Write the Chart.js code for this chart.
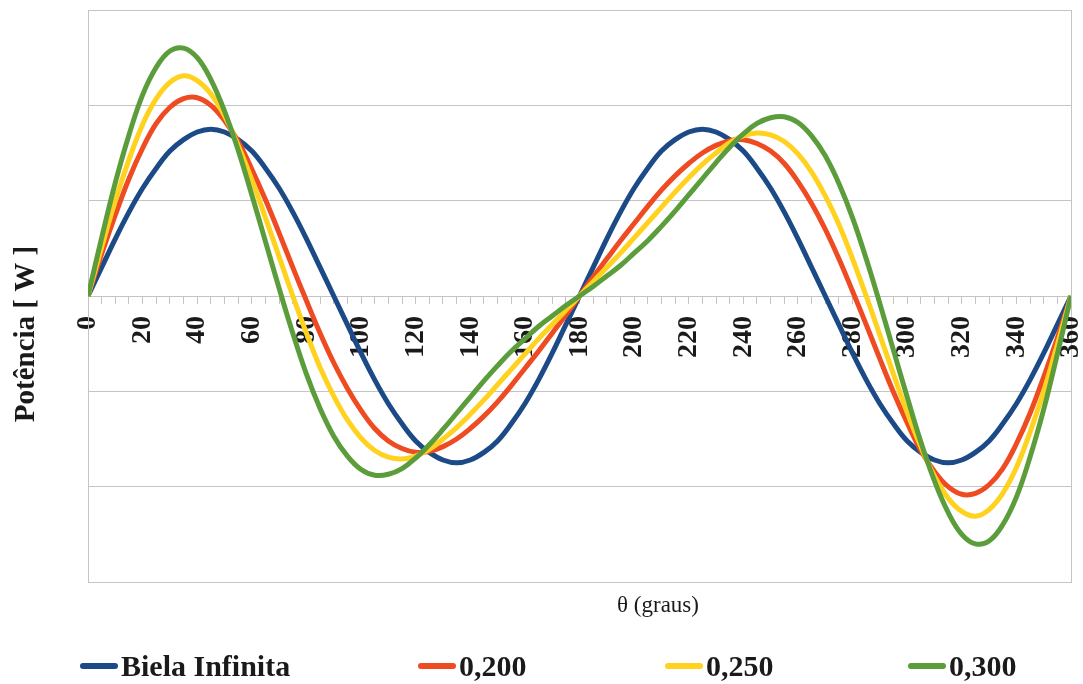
<!DOCTYPE html>
<html>
<head>
<meta charset="utf-8">
<script src="https://cdn.jsdelivr.net/npm/chart.js@4.4.1/dist/chart.umd.min.js"></script>
<style>
  html, body { margin: 0; padding: 0; background: #fff; }
  #wrap { position: relative; width: 1083px; height: 684px; }
  #legend { position: absolute; left: 0; top: 648px; width: 1083px; height: 36px;
            font: bold 30px "Liberation Serif", serif; color: #1a1a1a; }
  .item { position: absolute; top: 0; height: 36px; display: flex; align-items: center; white-space: nowrap; }
  .swatch { width: 38px; height: 6px; border-radius: 3px; margin-right: 3px; }
</style>
</head>
<body>
<div id="wrap">
  <canvas id="chart" width="1083" height="684"></canvas>
  <div id="legend"></div>
</div>
<script>
// crank angle (degrees)
const theta = [
  0, 5, 10, 15, 20, 25, 30, 35, 40, 45, 50, 55, 60, 65, 70, 75, 80, 85, 90,
  95, 100, 105, 110, 115, 120, 125, 130, 135, 140, 145, 150, 155, 160, 165, 170, 175, 180,
  185, 190, 195, 200, 205, 210, 215, 220, 225, 230, 235, 240, 245, 250, 255, 260, 265, 270,
  275, 280, 285, 290, 295, 300, 305, 310, 315, 320, 325, 330, 335, 340, 345, 350, 355, 360
];

const seriesNames = ['Biela Infinita', '0,200', '0,250', '0,300'];

// power [W] (one gridline = 1)
const bielaInfinita = [
  0, 0.30, 0.60, 0.88, 1.13, 1.34, 1.52, 1.64, 1.72, 1.75, 1.72, 1.64, 1.52, 1.34, 1.13, 0.88, 0.60, 0.30, 0,
  -0.30, -0.60, -0.88, -1.13, -1.34, -1.52, -1.64, -1.72, -1.75, -1.72, -1.64, -1.52, -1.34, -1.13, -0.88, -0.60, -0.30, 0,
  0.30, 0.60, 0.88, 1.13, 1.34, 1.52, 1.64, 1.72, 1.75, 1.72, 1.64, 1.52, 1.34, 1.13, 0.88, 0.60, 0.30, 0,
  -0.30, -0.60, -0.88, -1.13, -1.34, -1.52, -1.64, -1.72, -1.75, -1.72, -1.64, -1.52, -1.34, -1.13, -0.88, -0.60, -0.30, 0
];
const r200 = [
  0, 0.44, 0.85, 1.23, 1.55, 1.81, 1.98, 2.07, 2.08, 2.00, 1.84, 1.62, 1.33, 1.01, 0.66, 0.30, -0.05, -0.39, -0.70,
  -0.97, -1.20, -1.39, -1.52, -1.60, -1.64, -1.63, -1.58, -1.50, -1.39, -1.26, -1.11, -0.94, -0.76, -0.58, -0.39, -0.20, 0,
  0.20, 0.39, 0.58, 0.76, 0.94, 1.11, 1.26, 1.39, 1.50, 1.58, 1.63, 1.64, 1.60, 1.52, 1.39, 1.20, 0.97, 0.70,
  0.39, 0.05, -0.30, -0.66, -1.01, -1.33, -1.62, -1.84, -2.00, -2.08, -2.07, -1.98, -1.81, -1.55, -1.23, -0.85, -0.44, 0
];
const r250 = [
  0, 0.51, 1.00, 1.43, 1.80, 2.07, 2.24, 2.31, 2.26, 2.12, 1.89, 1.58, 1.22, 0.82, 0.41, 0.00, -0.39, -0.75, -1.05,
  -1.30, -1.49, -1.62, -1.69, -1.71, -1.68, -1.61, -1.50, -1.38, -1.24, -1.09, -0.93, -0.77, -0.61, -0.45, -0.30, -0.15, 0,
  0.15, 0.30, 0.45, 0.61, 0.77, 0.93, 1.09, 1.24, 1.38, 1.50, 1.61, 1.68, 1.71, 1.69, 1.62, 1.49, 1.30, 1.05,
  0.75, 0.39, 0.00, -0.41, -0.82, -1.22, -1.58, -1.89, -2.12, -2.26, -2.31, -2.24, -2.07, -1.80, -1.43, -1.00, -0.51, 0
];
const r300 = [
  0, 0.61, 1.19, 1.69, 2.11, 2.40, 2.57, 2.60, 2.50, 2.27, 1.94, 1.53, 1.06, 0.57, 0.08, -0.39, -0.82, -1.18, -1.47,
  -1.68, -1.82, -1.88, -1.87, -1.81, -1.70, -1.56, -1.40, -1.23, -1.06, -0.89, -0.73, -0.58, -0.45, -0.32, -0.21, -0.10, 0,
  0.10, 0.21, 0.32, 0.45, 0.58, 0.73, 0.89, 1.06, 1.23, 1.40, 1.56, 1.70, 1.81, 1.87, 1.88, 1.82, 1.68, 1.47,
  1.18, 0.82, 0.39, -0.08, -0.57, -1.06, -1.53, -1.94, -2.27, -2.50, -2.60, -2.57, -2.40, -2.11, -1.69, -1.19, -0.61, 0
];

const xTitle = 'θ (graus)';
const yTitle = 'Potência [ W ]';

const colors = ['#1b4a86', '#ef4b23', '#ffd21f', '#5b9d3b'];
const gridColor = '#c4c4c4';
const textColor = '#1a1a1a';
const legendLeft = [80, 418, 665, 908];

function points(values) {
    return theta.map((t, i) => ({ x: t, y: values[i] }));
}

const allSeries = [bielaInfinita, r200, r250, r300];

const datasets = allSeries.map((values, i) => ({
    label: seriesNames[i],
    data: points(values),
    borderColor: colors[i],
    backgroundColor: colors[i],
    borderWidth: 5,
    pointRadius: 0,
    tension: 0.4,
    fill: false,
    order: allSeries.length - 1 - i
}));

// axis titles sit off-centre in the original, so they are drawn here
const axisTitles = {
    id: 'axisTitles',
    afterDraw(chart) {
        const { ctx, chartArea } = chart;
        ctx.save();
        ctx.fillStyle = textColor;
        ctx.textAlign = 'center';
        ctx.textBaseline = 'middle';
        ctx.font = '23px "Liberation Serif"';
        ctx.fillText(xTitle, 658, chartArea.bottom + 24);
        ctx.translate(27, 334);
        ctx.rotate(-Math.PI / 2);
        ctx.font = 'bold 29px "Liberation Serif"';
        ctx.fillText(yTitle, 0, 0);
        ctx.restore();
    }
};

const chart = new Chart(document.getElementById('chart'), {
    type: 'line',
    data: { datasets },
    options: {
        responsive: false,
        animation: false,
        layout: { padding: { top: 10, right: 12, bottom: 102, left: 0 } },
        plugins: {
            legend: { display: false },
            tooltip: { enabled: false }
        },
        scales: {
            x: {
                type: 'linear',
                min: 0,
                max: 360,
                afterFit: s => { s.height = 0; },
                ticks: { display: false, stepSize: 20 },
                grid: {
                    drawTicks: false,
                    color: c => (c.tick && c.tick.value === 360 ? gridColor : 'transparent')
                },
                border: { color: gridColor }
            },
            x2: {
                type: 'linear',
                position: { y: 0 },
                min: 0,
                max: 360,
                afterFit: s => { s.paddingLeft = 0; s.paddingRight = 0; },
                ticks: {
                    stepSize: 5,
                    autoSkip: false,
                    minRotation: 90,
                    maxRotation: 90,
                    padding: 12,
                    color: textColor,
                    font: { family: '"Liberation Serif", serif', size: 28, weight: 'bold' },
                    callback: v => (v % 20 === 0 ? String(v) : '')
                },
                grid: { drawOnChartArea: false, tickLength: 8, color: gridColor },
                border: { display: false }
            },
            y: {
                min: -3,
                max: 3,
                afterFit: s => { s.width = 88; },
                ticks: { display: false, stepSize: 1 },
                grid: { drawTicks: false, color: gridColor },
                border: { color: gridColor }
            }
        }
    },
    plugins: [axisTitles]
});

// legend in the page, built from the chart's datasets
const legend = document.getElementById('legend');
chart.data.datasets.forEach((ds, i) => {
    const item = document.createElement('div');
    item.className = 'item';
    item.style.left = legendLeft[i] + 'px';
    item.innerHTML = `<span class="swatch" style="background:${ds.borderColor}"></span><span>${ds.label}</span>`;
    legend.appendChild(item);
});
</script>
</body>
</html>
